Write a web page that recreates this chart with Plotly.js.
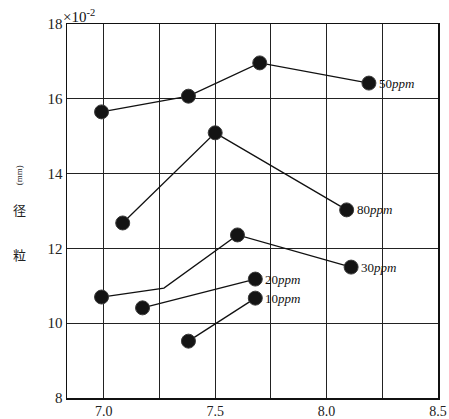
<!DOCTYPE html>
<html><head><meta charset="utf-8">
<script src="https://cdn.plot.ly/plotly-3.0.1.min.js"></script>
<style>body{margin:0;background:#fff}#c{width:449px;height:419px}</style>
</head><body><div id="c"></div>
<script>
const seriesNames = ['50', '80', '30', '20', '10'];
const x50 = [6.99, 7.38, 7.70, 8.19];
const y50 = [15.65, 16.07, 16.96, 16.42];
const x80 = [7.085, 7.50, 8.09];
const y80 = [12.68, 15.09, 13.03];
const x30 = [6.99, 7.27, 7.60, 8.11];
const y30 = [10.70, 10.94, 12.36, 11.50];
const marked30 = [true, false, true, true];
const x20 = [7.174, 7.68];
const y20 = [10.41, 11.18];
const x10 = [7.38, 7.68];
const y10 = [9.52, 10.67];
const xTicks = [7.0, 7.5, 8.0, 8.5];
const xTickText = ['7.0', '7.5', '8.0', '8.5'];
const yTicks = [8, 10, 12, 14, 16, 18];

const xs = [x50, x80, x30, x20, x10];
const ys = [y50, y80, y30, y20, y10];
const serif = 'Liberation Serif, DejaVu Serif, serif';

const traces = xs.map((x, i) => {
  const sizes = x.map((_, j) => (i === 2 && !marked30[j]) ? 0 : 14);
  return {
    x: x, y: ys[i], type: 'scatter', mode: 'lines+markers',
    name: seriesNames[i] + 'ppm', showlegend: false,
    line: {color: '#111', width: 1.3},
    marker: {size: sizes, color: '#141414', opacity: 1, line: {color: '#3a3a3a', width: 1}}
  };
});

const annotations = xs.map((x, i) => ({
  x: x[x.length - 1], y: ys[i][ys[i].length - 1], xref: 'x', yref: 'y',
  text: seriesNames[i] + '<i>ppm</i>', showarrow: false,
  xanchor: 'left', yanchor: 'middle', xshift: 8,
  font: {family: serif, size: 13, color: '#111'}
}));
annotations.push(
  {xref: 'paper', yref: 'paper', x: -0.015, y: 1.0, xanchor: 'left', yanchor: 'bottom', yshift: -3,
   text: '×10<sup>-2</sup>', showarrow: false, font: {family: serif, size: 15, color: '#111'}},
  {xref: 'paper', yref: 'y', x: -0.127, y: 11.85, xanchor: 'center', yanchor: 'middle',
   text: '粒', showarrow: false, font: {family: 'Noto Sans CJK JP', size: 13, color: '#222'}},
  {xref: 'paper', yref: 'y', x: -0.127, y: 13.05, xanchor: 'center', yanchor: 'middle',
   text: '径', showarrow: false, font: {family: 'Noto Sans CJK JP', size: 13, color: '#222'}},
  {xref: 'paper', yref: 'y', x: -0.127, y: 13.95, xanchor: 'center', yanchor: 'middle',
   text: '(mm)', textangle: -90, showarrow: false, font: {family: serif, size: 9, color: '#222'}}
);

const layout = {
  width: 449, height: 419,
  margin: {l: 67, r: 11, t: 24, b: 21},
  paper_bgcolor: '#fff', plot_bgcolor: '#fff',
  xaxis: {range: [6.835, 8.5], tickvals: xTicks, ticktext: xTickText,
    showgrid: true, gridcolor: '#222', gridwidth: 1.2, zeroline: false,
    minor: {dtick: 0.25, tick0: 7, showgrid: true, gridcolor: '#222', gridwidth: 1.2, ticks: ''},
    showline: true, linecolor: '#111', linewidth: 1.5, mirror: true, ticks: '',
    tickfont: {family: serif, size: 14, color: '#222'}},
  yaxis: {range: [8, 18], tickvals: yTicks,
    showgrid: true, gridcolor: '#222', gridwidth: 1.2, zeroline: false,
    showline: true, linecolor: '#111', linewidth: 1.5, mirror: true, ticks: '',
    tickfont: {family: serif, size: 15, color: '#222'}},
  annotations: annotations
};
Plotly.newPlot('c', traces, layout, {displayModeBar: false, staticPlot: true});
</script></body></html>
